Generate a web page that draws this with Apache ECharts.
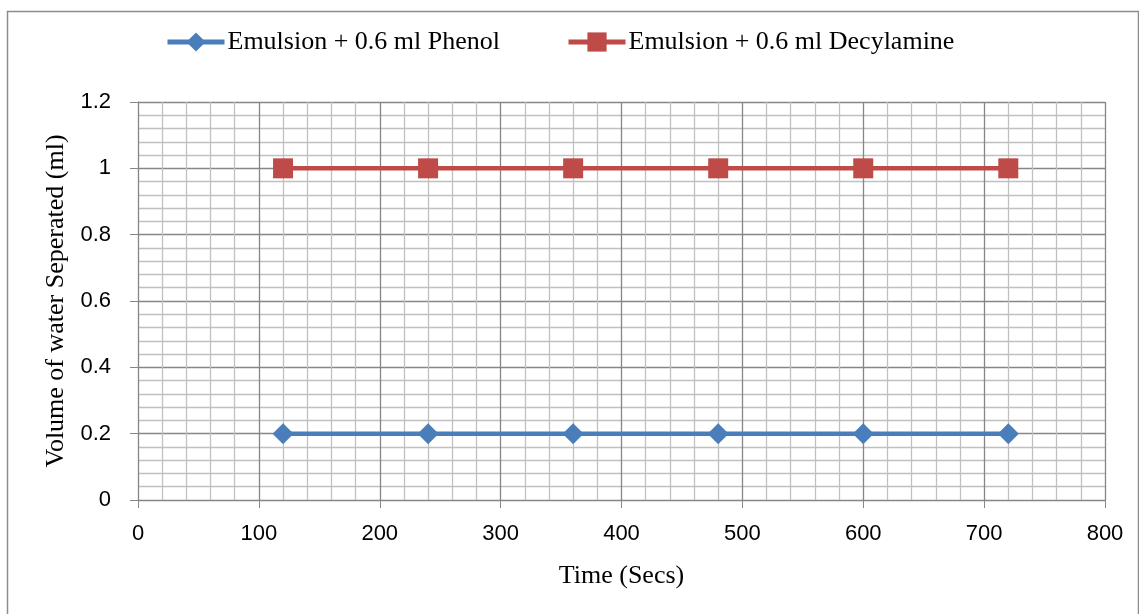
<!DOCTYPE html>
<html><head><meta charset="utf-8">
<script src="https://cdn.jsdelivr.net/npm/echarts@6/dist/echarts.min.js"></script>
<style>html,body{margin:0;padding:0;background:#fff}#c{width:1139px;height:614px}</style>
</head><body><div id="c"></div>
<script>
const times = [120, 240, 360, 480, 600, 720];
const phenol = [0.2, 0.2, 0.2, 0.2, 0.2, 0.2];
const decylamine = [1, 1, 1, 1, 1, 1];
const seriesNames = ['Emulsion + 0.6 ml Phenol', 'Emulsion + 0.6 ml Decylamine'];
const xTitle = 'Time (Secs)';
const yTitle = 'Volume of water Seperated (ml)';

const chart = echarts.init(document.getElementById('c'));
const serif = 'Liberation Serif';
const sans = 'Liberation Sans';
chart.setOption({
  animation: false,
  graphic: [{type:'rect', shape:{x:7.5,y:11.5,width:1131,height:610}, style:{fill:'none', stroke:'#8c8c8c', lineWidth:1.5}, silent:true}],
  legend: {
    top: 24, left: 160, itemGap: 66, itemWidth: 57, itemHeight: 24,
    lineStyle: {width: 5},
    textStyle: {fontFamily: serif, fontSize: 26, color: '#000', padding:[0,0,0,-2]},
    data: seriesNames
  },
  grid: {left: 138, right: 34, top: 102, bottom: 114, containLabel: false},
  xAxis: {
    type: 'value', min: 0, max: 800, interval: 100,
    name: xTitle, nameLocation: 'middle', nameGap: 63,
    nameTextStyle: {fontFamily: serif, fontSize: 26, color: '#000'},
    axisLine: {show: true, lineStyle: {color: '#868686', width: 1}},
    axisTick: {show: true, length: 8, lineStyle: {color: '#868686'}},
    axisLabel: {fontFamily: sans, fontSize: 22, color: '#000', margin: 23},
    splitLine: {show: true, lineStyle: {color: '#868686', width: 1.3}},
    minorTick: {show: false, splitNumber: 5},
    minorSplitLine: {show: true, lineStyle: {color: '#c0c0c0', width: 1.3}}
  },
  yAxis: {
    type: 'value', min: 0, max: 1.2, interval: 0.2,
    name: yTitle, nameLocation: 'middle', nameGap: 66, nameRotate: 90,
    nameTextStyle: {fontFamily: serif, fontSize: 26, color: '#000'},
    axisLine: {show: true, lineStyle: {color: '#868686', width: 1}},
    axisTick: {show: true, length: 8, lineStyle: {color: '#868686'}},
    axisLabel: {fontFamily: sans, fontSize: 22, color: '#000', margin: 27,
      formatter: v => String(parseFloat(v.toFixed(1)))},
    splitLine: {show: true, lineStyle: {color: '#868686', width: 1.3}},
    minorTick: {show: false, splitNumber: 5},
    minorSplitLine: {show: true, lineStyle: {color: '#c0c0c0', width: 1.3}}
  },
  series: [
    {name: seriesNames[0], type: 'line', data: times.map((t,i)=>[t, phenol[i]]),
     symbol: 'diamond', symbolSize: 21, itemStyle: {color: '#4a7ebb'},
     lineStyle: {color: '#4a7ebb', width: 4.5}},
    {name: seriesNames[1], type: 'line', data: times.map((t,i)=>[t, decylamine[i]]),
     symbol: 'rect', symbolSize: 20, itemStyle: {color: '#be4b48'},
     lineStyle: {color: '#be4b48', width: 4.5}}
  ]
});
</script></body></html>
